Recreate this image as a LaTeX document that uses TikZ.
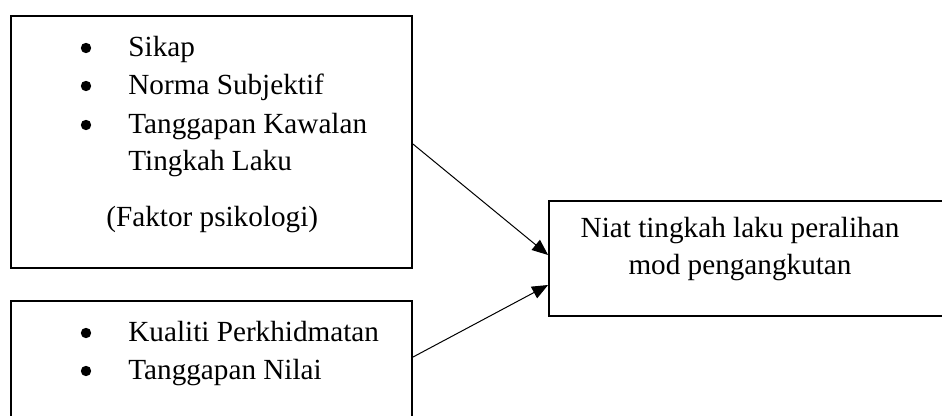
\documentclass[tikz,border=0pt]{standalone}
\usepackage{fontspec}
\setmainfont{Liberation Serif}
\usetikzlibrary{arrows.meta}

\begin{document}
\begin{tikzpicture}[x=0.5pt, y=-0.5pt,
        kotak/.style={draw, line width=0.9pt, rectangle, inner sep=0pt},
        teks/.style={anchor=base west, inner sep=0pt, font=\fontsize{14.6}{18.8}\selectfont},
        tengah/.style={anchor=base, inner sep=0pt, font=\fontsize{14.6}{18.8}\selectfont},
        titik/.style={circle, fill, inner sep=0pt, minimum size=5.2pt},
        panah/.style={-{Triangle[length=8pt, width=6.5pt]}, line width=0.5pt}]
            \useasboundingbox (0, 0) rectangle (942, 416);
            \clip (0, 0) rectangle (942, 416);

            % kotak kiri atas
            \node[kotak, minimum width=200.5pt, minimum height=126pt] (psiko) at (211.5, 142) {};
            \node[titik] (b1) at (86, 48) {};
            \node[teks] (sikap) at (128, 57) {Sikap};
            \node[titik] (b2) at (86, 86) {};
            \node[teks] (norma) at (128, 95) {Norma Subjektif};
            \node[titik] (b3) at (86, 125) {};
            \node[teks] (kawalan) at (128, 134) {Tanggapan Kawalan};
            \node[teks] (tingkah) at (128, 171) {Tingkah Laku};
            \node[teks] (faktor) at (106, 227) {(Faktor psikologi)};

            % kotak kiri bawah
            \node[kotak, minimum width=200.5pt, minimum height=72pt] (servis) at (211.5, 373) {};
            \node[titik] (b4) at (86, 333) {};
            \node[teks] (kualiti) at (128, 342) {Kualiti Perkhidmatan};
            \node[titik] (b5) at (86, 371) {};
            \node[teks] (nilai) at (128, 380) {Tanggapan Nilai};

            % kotak kanan
            \node[kotak, minimum width=201pt, minimum height=57.5pt] (niat) at (750, 258.5) {};
            \node[tengah] (niat1) at (740, 238) {Niat tingkah laku peralihan};
            \node[tengah] (niat2) at (740, 275) {mod pengangkutan};

            \draw[panah] ([yshift=-1pt]psiko.east) -- ([yshift=1.75pt]niat.west);
            \draw[panah] ([yshift=-28.5pt]servis.north east) -- ([yshift=-13.25pt]niat.west);
        \end{tikzpicture}
\end{document}
